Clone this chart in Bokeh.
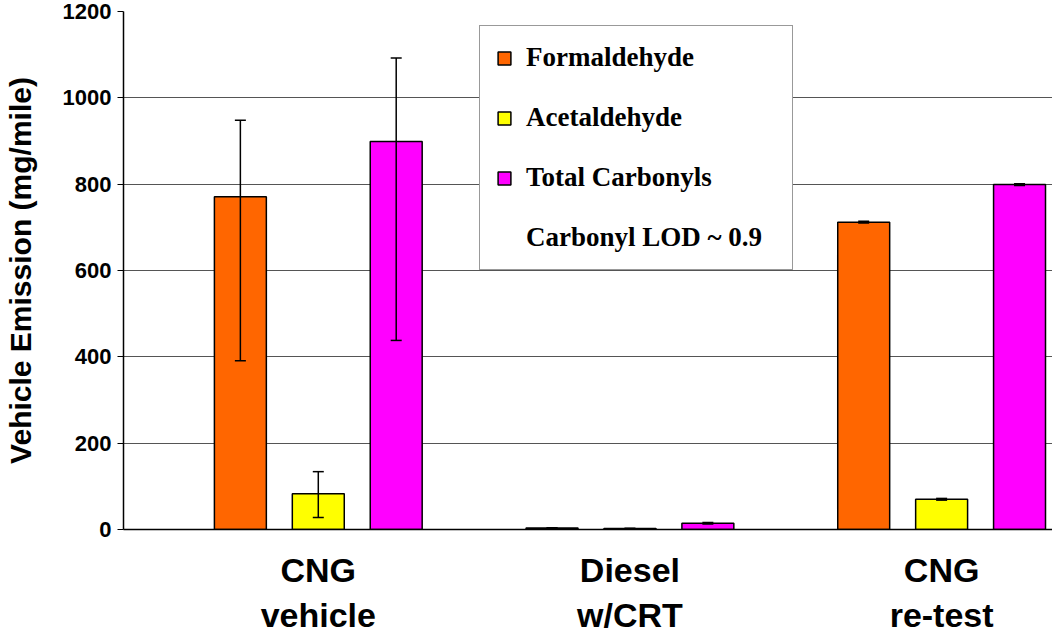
import numpy as np
from bokeh.plotting import figure
from bokeh.models import (ColumnDataSource, Range1d, FixedTicker, Whisker, TeeHead,
                          Legend, LegendItem, LinearAxis)
from bokeh.embed import file_html
from bokeh.resources import INLINE

# ---- data ----
categories = ["CNG\nvehicle", "Diesel\nw/CRT", "CNG\nre-test"]
series = ["Formaldehyde", "Acetaldehyde", "Total Carbonyls"]
colors = ["#FF6600", "#FFFF00", "#FF00FF"]

formaldehyde = [771, 3.5, 712]
acetaldehyde = [83, 2.5, 70]
total_carbonyls = [899, 14.5, 799]

formaldehyde_hi = [948, 4, 714]
formaldehyde_lo = [391, 3, 710]
acetaldehyde_hi = [134, 3, 72]
acetaldehyde_lo = [28, 2, 68]
total_hi = [1092, 16.5, 801]
total_lo = [438, 12.5, 797]

y_ticks = [0, 200, 400, 600, 800, 1000, 1200]
lod_note = "Carbonyl LOD ~ 0.9"

values = [formaldehyde, acetaldehyde, total_carbonyls]
highs = [formaldehyde_hi, acetaldehyde_hi, total_hi]
lows = [formaldehyde_lo, acetaldehyde_lo, total_lo]

# layout: each category has 4 slots (first slot empty), bars are 2/3 of a slot
n_slots = 4
slot_w = 1.0 / n_slots
bar_w = slot_w * 2 / 3

p = figure(width=1052, height=636, output_backend="svg", toolbar_location=None,
           x_range=Range1d(0, 930 / 312), y_range=Range1d(0, 1200),
           min_border_left=122, min_border_right=0, min_border_top=11,
           min_border_bottom=107)
p.background_fill_color = "white"
p.border_fill_color = "white"
p.outline_line_color = None

cat_idx = np.arange(len(categories))
renderers = []
for j, (vals, hi, lo, col) in enumerate(zip(values, highs, lows, colors)):
    xs = cat_idx + (j + 1 + 0.5) * slot_w
    src = ColumnDataSource(dict(x=xs, top=vals, upper=hi, lower=lo))
    r = p.vbar(x="x", top="top", width=bar_w, source=src, fill_color=col,
               line_color="black", line_width=1.5)
    renderers.append(r)
    w = Whisker(base="x", upper="upper", lower="lower", source=src,
                line_color="black", line_width=1.5, level="annotation",
                upper_head=TeeHead(size=11, line_color="black", line_width=1.5),
                lower_head=TeeHead(size=11, line_color="black", line_width=1.5))
    p.add_layout(w)

# transparent renderer for the LOD note in the legend
r_note = p.vbar(x=[], top=[], width=0.1, fill_alpha=0, line_alpha=0)

# x axis: two stacked axes, one per line of the category names
tick_pos = [float(t) for t in cat_idx + 2.5 * slot_w]
line1 = [c.split("\n")[0] for c in categories]
line2 = [c.split("\n")[1] for c in categories]

ax2 = LinearAxis()
p.add_layout(ax2, "below")
for ax, labels, standoff in ((p.xaxis[0], line1, 21), (ax2, line2, 4)):
    ax.ticker = FixedTicker(ticks=tick_pos)
    ax.major_label_overrides = {t: s for t, s in zip(tick_pos, labels)}
    ax.major_tick_out = 0
    ax.major_tick_in = 0
    ax.minor_tick_out = 0
    ax.minor_tick_in = 0
    ax.major_label_text_font = "Liberation Sans"
    ax.major_label_text_font_style = "bold"
    ax.major_label_text_font_size = "34px"
    ax.major_label_text_color = "black"
    ax.major_label_standoff = standoff
p.xaxis[0].axis_line_color = "black"
p.xaxis[0].axis_line_width = 1.5
ax2.axis_line_color = None

p.yaxis.ticker = FixedTicker(ticks=y_ticks)
p.yaxis.axis_label = "Vehicle Emission (mg/mile)"
p.yaxis.axis_label_text_font = "Liberation Sans"
p.yaxis.axis_label_text_font_style = "bold"
p.yaxis.axis_label_text_font_size = "30px"
p.yaxis.axis_label_text_color = "black"
p.yaxis.axis_label_standoff = 23
p.yaxis.major_label_text_font = "Liberation Sans"
p.yaxis.major_label_text_font_style = "bold"
p.yaxis.major_label_text_font_size = "22px"
p.yaxis.major_label_text_color = "black"
p.yaxis.major_label_standoff = 6
p.yaxis.major_tick_out = 6
p.yaxis.major_tick_in = 0
p.yaxis.minor_tick_out = 0
p.yaxis.minor_tick_in = 0
p.yaxis.axis_line_color = "black"
p.yaxis.axis_line_width = 1.5

p.xgrid.grid_line_color = None
p.ygrid.grid_line_color = "#555555"
p.ygrid.grid_line_width = 1

items = [LegendItem(label=s, renderers=[r]) for s, r in zip(series, renderers)]
items.append(LegendItem(label=lod_note, renderers=[r_note]))
legend = Legend(items=items, location=(356, 259), margin=0, padding=16,
                spacing=29, glyph_width=16, glyph_height=16, label_standoff=14,
                label_width=250, label_height=31,
                label_text_font="Liberation Serif", label_text_font_style="bold",
                label_text_font_size="27px", label_text_color="black",
                border_line_color="#333333", border_line_width=1,
                background_fill_color="white", background_fill_alpha=1)
p.add_layout(legend, "center")

open("out.html", "w").write(file_html(p, INLINE))
